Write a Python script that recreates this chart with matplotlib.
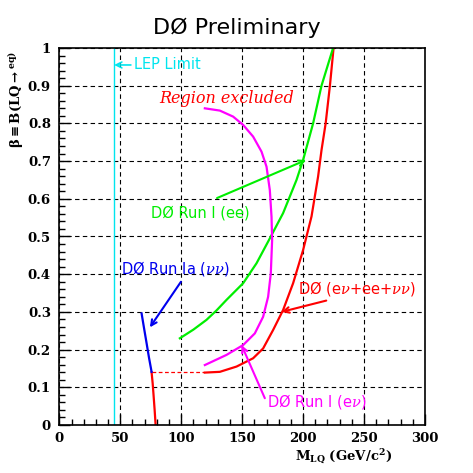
import matplotlib.pyplot as plt
import numpy as np

plt.rcParams['mathtext.fontset'] = 'dejavuserif'

# ---- data ----
lep_x = 45

red_low_x = [79.0, 78.2, 77.3, 76.6, 75.7]
red_low_y = [0.0, 0.04, 0.08, 0.11, 0.14]
red_dash_x = [75.7, 119.0]
red_dash_y = [0.14, 0.14]
red_x = [119.4, 131.7, 145.4, 159.0, 167.2, 175.4, 183.6, 191.8, 200.0, 206.9, 212.3, 215.1, 218.5, 222.0, 225.0]
red_y = [0.139, 0.141, 0.155, 0.177, 0.203, 0.252, 0.305, 0.376, 0.464, 0.553, 0.659, 0.729, 0.8, 0.9, 1.0]

green_x = [98.9, 110.0, 120.8, 129.0, 137.2, 150.8, 161.8, 172.7, 183.6, 194.6, 200.0, 208.2, 215.1, 224.6]
green_y = [0.230, 0.253, 0.279, 0.304, 0.332, 0.376, 0.429, 0.495, 0.562, 0.650, 0.703, 0.80, 0.90, 1.0]

mag_x = [119.4, 131.7, 142.6, 150.8, 159.0, 165.9, 170.0, 172.7, 174.1, 174.6, 173.5, 171.3,
         167.2, 160.4, 150.8, 137.2, 119.4]
mag_y = [0.840, 0.834, 0.818, 0.796, 0.765, 0.725, 0.685, 0.623, 0.552, 0.491, 0.402, 0.340,
         0.287, 0.243, 0.212, 0.186, 0.159]

blue_x = [67.5, 69.5, 71.6, 73.6, 75.7]
blue_y = [0.296, 0.257, 0.217, 0.178, 0.141]

RED = '#ff0000'
GREEN = '#00ee00'
MAG = '#ff00ff'
BLUE = '#0000ee'
CYAN = '#00e5ee'

fig = plt.figure(figsize=(4.73, 4.73), dpi=100)
ax = fig.add_axes([0.1254, 0.1015, 0.7731, 0.797])

ax.axvline(lep_x, color=CYAN, lw=1.0)
ax.plot(red_low_x, red_low_y, color=RED, lw=1.6)
ax.plot(red_dash_x, red_dash_y, color=RED, lw=0.9, ls=(0, (3, 2)))
ax.plot(red_x, red_y, color=RED, lw=1.6)
ax.plot(green_x, green_y, color=GREEN, lw=1.6)
ax.plot(mag_x, mag_y, color=MAG, lw=1.6)
ax.plot(blue_x, blue_y, color=BLUE, lw=1.6)

ax.set_xlim(0, 300)
ax.set_ylim(0, 1)
ax.set_xticks(np.arange(0, 301, 50))
ax.set_yticks(np.arange(0, 1.01, 0.1))
ax.set_xticks(np.arange(0, 301, 10), minor=True)
ax.set_yticks(np.arange(0, 1.001, 0.02), minor=True)
ax.set_xticklabels(['0', '50', '100', '150', '200', '250', '300'])
ax.set_yticklabels(['0', '0.1', '0.2', '0.3', '0.4', '0.5', '0.6', '0.7', '0.8', '0.9', '1'])
for lab in ax.get_xticklabels() + ax.get_yticklabels():
    lab.set_fontfamily('DejaVu Serif')
    lab.set_fontweight('bold')
    lab.set_fontsize(9.5)
ax.tick_params(which='both', direction='in', top=False, right=False, color='black')
ax.tick_params(axis='x', which='major', length=8, width=1, pad=5)
ax.tick_params(axis='y', which='major', length=8, width=1, pad=6)
ax.tick_params(which='minor', length=4, width=1)
ax.grid(True, which='major', color='black', ls=(0, (4, 3)), lw=0.8)
for s in ax.spines.values():
    s.set_linewidth(1.2)

fig.suptitle('DØ Preliminary', x=0.5, y=0.962, fontsize=16)

fig.text(0.035, 0.789, r'$\mathbf{\beta \equiv B(LQ \rightarrow}^{\mathbf{eq)}}$', fontsize=9.5,
         rotation=90, ha='center', va='center')
fig.text(0.727, 0.026, r'$\mathbf{M}_{\mathbf{LQ}}\ \mathbf{(GeV/c^{2})}$', fontsize=9.5,
         ha='center', va='baseline')

# annotations
ax.annotate('LEP Limit', xy=(45, 0.955), xytext=(61, 0.955), color=CYAN, fontsize=10.5,
            va='center', arrowprops=dict(arrowstyle='->', color=CYAN, lw=1.2, shrinkA=0, shrinkB=0))
ax.text(137, 0.867, 'Region excluded', color=RED, fontsize=11.5, ha='center', va='center',
        fontfamily='DejaVu Serif', style='italic')
ax.text(116, 0.562, 'DØ Run I (ee)', color=GREEN, fontsize=10.5, ha='center', va='center')
ax.annotate('', xy=(202.5, 0.703), xytext=(129.4, 0.602),
            arrowprops=dict(arrowstyle='->', color=GREEN, lw=1.5, shrinkA=0, shrinkB=0))
ax.text(51, 0.416, r'DØ Run Ia ($\nu\nu$)', color=BLUE, fontsize=10.5, ha='left', va='center')
ax.annotate('', xy=(74.3, 0.259), xytext=(99.8, 0.38),
            arrowprops=dict(arrowstyle='->', color=BLUE, lw=1.5, shrinkA=0, shrinkB=0))
ax.text(196, 0.363, r'DØ (e$\nu$+ee+$\nu\nu$)', color=RED, fontsize=10.5, ha='left', va='center')
ax.annotate('', xy=(182.3, 0.30), xytext=(219, 0.33),
            arrowprops=dict(arrowstyle='->', color=RED, lw=1.5, shrinkA=0, shrinkB=0))
ax.text(170, 0.062, r'DØ Run I (e$\nu$)', color=MAG, fontsize=10.5, ha='left', va='center')
ax.annotate('', xy=(149.5, 0.212), xytext=(168.6, 0.071),
            arrowprops=dict(arrowstyle='->', color=MAG, lw=1.5, shrinkA=0, shrinkB=0))

fig.savefig('out.png', dpi=100)
